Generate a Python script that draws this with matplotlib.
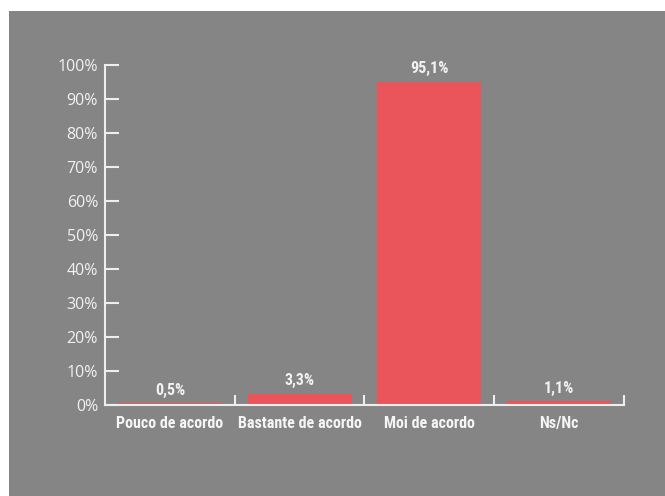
import matplotlib.pyplot as plt
from matplotlib.patches import Rectangle

categories = ['Pouco de acordo', 'Bastante de acordo', 'Moi de acordo', 'Ns/Nc']
values = [0.5, 3.3, 95.1, 1.1]
labels = ['0,5%', '3,3%', '95,1%', '1,1%']
yticks = list(range(0, 101, 10))

bg = '#858585'
bar_color = '#ea555b'
axis_color = '#eeeeee'
cond = ['Roboto Condensed', 'DejaVu Sans']


def main():
    fig = plt.figure(figsize=(6.65, 4.96), dpi=100)
    fig.patch.set_facecolor('white')
    fig.patches.append(Rectangle((9 / 665, 0), 1, 1 - 11 / 496, transform=fig.transFigure,
                                 facecolor=bg, edgecolor='none', zorder=-5))

    ax = fig.add_axes([105 / 665, 1 - 405 / 496, (624 - 105) / 665, (405 - 65) / 496])
    ax.set_facecolor('none')
    x = range(len(categories))
    ax.bar(x, values, width=0.8, color=bar_color, zorder=2)
    for i, (v, lab) in enumerate(zip(values, labels)):
        ax.annotate(lab, (i, v), xytext=(0, 4), textcoords='offset points', ha='center',
                    va='bottom', color='#f2f2f2', fontsize=11.5, fontweight='bold', family=cond)

    ax.set_xlim(-0.5, 3.5)
    ax.set_ylim(0, 100)
    for s in ['top', 'right']:
        ax.spines[s].set_visible(False)
    for s in ['left', 'bottom']:
        ax.spines[s].set_color(axis_color)
        ax.spines[s].set_linewidth(1.5)

    ax.set_yticks(yticks)
    ax.set_yticklabels([f'{t}%' for t in yticks], color='#f2f2f2', fontsize=11.5, family='Open Sans')
    ax.tick_params(axis='y', direction='in', length=10, width=1.5, color=axis_color, pad=5)

    ax.set_xticks(list(x))
    ax.set_xticklabels(categories, color='#f5f5f5', fontsize=11.5, fontweight='bold', family=cond)
    ax.tick_params(axis='x', which='major', length=0, pad=8)
    ax.set_xticks([0.5, 1.5, 2.5, 3.5], minor=True)
    ax.tick_params(axis='x', which='minor', direction='in', length=7, width=1.5, color=axis_color)

    fig.savefig('out.png', dpi=100)


if __name__ == '__main__':
    main()
